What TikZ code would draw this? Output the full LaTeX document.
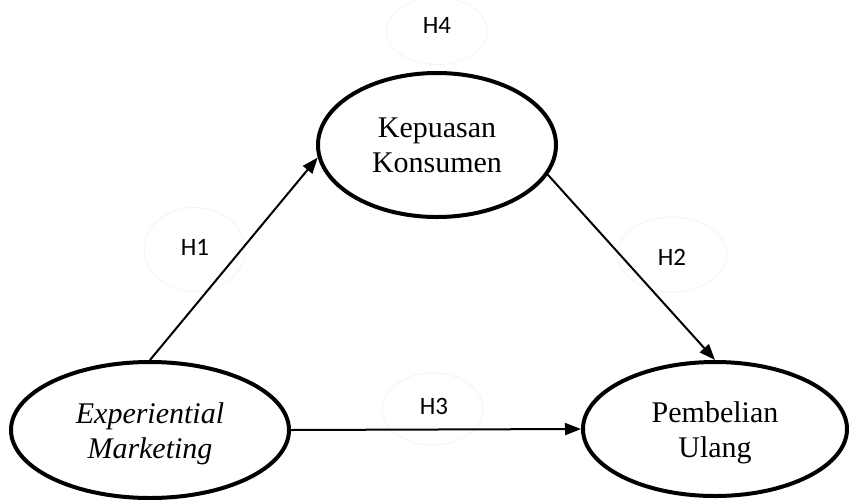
\documentclass[tikz,border=0pt]{standalone}
\usepackage{fontspec}
\setmainfont{Liberation Serif}
\newfontfamily\hfont{Carlito}
\usetikzlibrary{shapes.geometric,arrows.meta}
\definecolor{faint}{HTML}{F5F5F5}
\newcommand{\topstrut}{\rule{0pt}{28pt}}
\begin{document}
\begin{tikzpicture}[x=1pt,y=-1pt,
  construct/.style={ellipse,draw,line width=4pt,inner sep=0pt,align=center,
    font=\fontsize{30}{35}\selectfont},
  hint/.style={ellipse,draw=faint,line width=1pt,inner sep=0pt},
  hlabel/.style={inner sep=0pt,font=\hfont\fontsize{25}{28}\selectfont},
  path/.style={line width=2pt,-{Triangle[length=16pt,width=12pt]}}]
\useasboundingbox (0,0) rectangle (849,499);
% faint outlines around the hypothesis labels
\node[hint,minimum width=101pt,minimum height=67pt] (o4) at (437,31) {};
\node[hint,minimum width=101pt,minimum height=84pt] (o1) at (194.5,249.5) {};
\node[hint,minimum width=110pt,minimum height=75pt] (o2) at (672,254.5) {};
\node[hint,minimum width=101pt,minimum height=72pt] (o3) at (432.5,409) {};
% constructs
\node[construct,minimum width=238pt,minimum height=144pt] (k) at (437,145) {Kepuasan\\Konsumen};
\node[construct,minimum width=278pt,minimum height=136pt] (e) at (150,430) {\topstrut\itshape Experiential\\\itshape Marketing};
\node[construct,minimum width=264pt,minimum height=134pt] (p) at (715,429) {\topstrut Pembelian\\Ulang};
% hypothesis labels
\node[hlabel] (h4) at (437,25.5) {H4};
\node[hlabel] (h1) at (195,247) {H1};
\node[hlabel] (h2) at (672,257) {H2};
\node[hlabel] (h3) at (434,406.5) {H3};
% paths
\draw[path] (e.north) -- (k.186);
\draw[path] (k.345) -- (p.north);
\draw[path] (e.east) -- (p.west);
\end{tikzpicture}
\end{document}
